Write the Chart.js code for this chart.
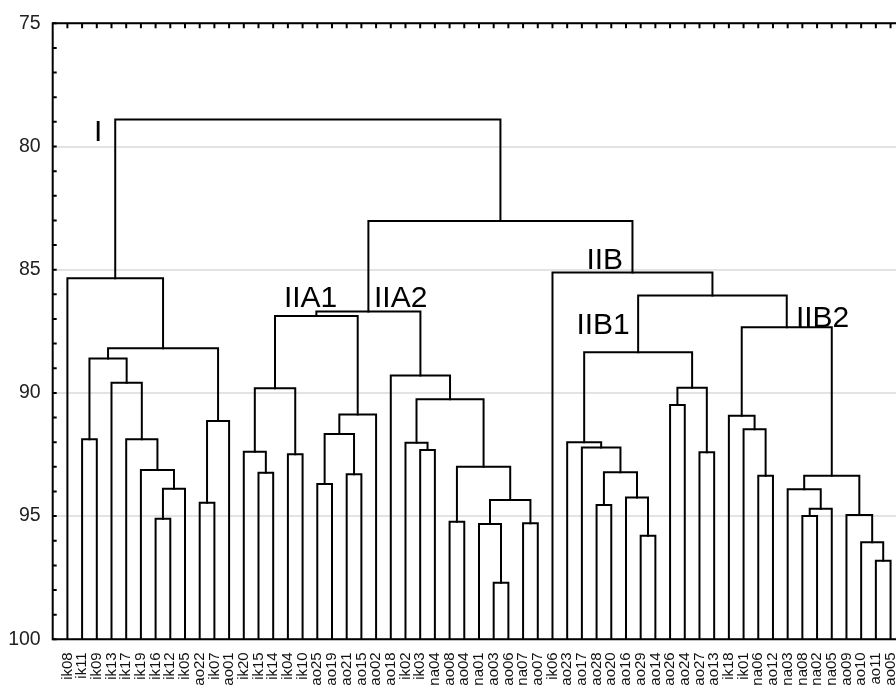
<!DOCTYPE html>
<html><head><meta charset="utf-8">
<script src="https://cdn.jsdelivr.net/npm/chart.js@4.4.1/dist/chart.umd.min.js"></script>
<style>html,body{margin:0;padding:0;background:#fff;overflow:hidden}canvas{display:block}</style>
</head><body>
<canvas id="c" width="896" height="693" style="width:896px;height:693px"></canvas>
<script>
// Leaf order (bottom axis categories)
const leaves = ['ik08','ik11','ik09','ik13','ik17','ik19','ik16','ik12','ik05','ao22','ik07','ao01','ik20','ik15','ik14','ik04','ik10','ao25','ao19','ao21','ao15','ao02','ao18','ik02','ik03','na04','ao08','ao04','na01','ao03','ao06','na07','ao07','ik06','ao23','ao17','ao28','ao20','ao16','ao29','ao14','ao26','ao24','ao27','ao13','ik18','ik01','na06','ao12','na03','na08','na02','na05','ao09','ao10','ao11','ao05'];
// Linkage: strings = leaf names, numbers = earlier merge index
const linkLeft = ['ik11','ik16',1,'ik19','ik17','ik13',0,'ao22',7,6,'ik08',
  'ik15','ik20','ik04',12,'ao25','ao21',15,17,14,
  'ik03','ik02','ao08','ao03','na01','na07',24,22,21,'ao18',19,
  'ao28','ao29','ao16',31,'ao17','ao23','ao26','ao27',37,36,
  'na06','ik01','ik18','na08',44,'na03','ao11','ao10','ao09',46,43,40,'ik06',30,10];
const linkRight = ['ik09','ik12','ik05',2,3,4,5,'ik07','ao01',8,9,
  'ik14',11,'ik10',13,'ao19','ao15',16,'ao02',18,
  'na04',20,'ao04','ao06',23,'ao07',25,26,27,28,29,
  'ao20','ao14',32,33,34,35,'ao24','ao13',38,39,
  'ao12',41,42,'na02','na05',45,'ao05',47,48,49,50,51,52,53,54];
const linkHeight = [91.88,95.11,93.89,93.13,91.88,89.59,88.6,94.46,91.14,88.19,85.35,
  93.24,92.39,92.49,89.81,93.7,93.3,91.67,90.88,86.88,
  92.32,92.02,95.23,97.7,95.32,95.29,94.35,93.0,90.26,89.29,86.7,
  94.55,95.8,94.25,93.22,92.22,92.0,90.49,92.41,89.79,88.35,
  93.36,91.48,90.93,95.0,94.7,93.91,96.81,96.06,94.96,93.36,87.34,86.05,85.11,83.02,78.9];
const yTicks = [75,80,85,90,95,100];
const clusterNames = ['I','IIA1','IIA2','IIB','IIB1','IIB2'];
const clusterX = [1.81,14.73,20.86,35.31,34.63,49.56];
const clusterY = [79.78,86.5,86.5,84.98,87.62,87.34];

const nodes = [];
function node(ref){
  if (typeof ref === 'string') return {x: leaves.indexOf(ref), h: 100};
  return nodes[ref];
}
const datasets = [];
for (let k = 0; k < linkHeight.length; k++){
  const L = node(linkLeft[k]), R = node(linkRight[k]), h = linkHeight[k];
  nodes.push({x: (L.x + R.x) / 2, h: h});
  datasets.push({
    data: [{x: L.x, y: L.h}, {x: L.x, y: h}, {x: R.x, y: h}, {x: R.x, y: R.h}],
    showLine: true, borderColor: '#000', borderWidth: 2, pointRadius: 0,
    tension: 0, fill: false, borderJoinStyle: 'miter', borderCapStyle: 'square'
  });
}

const frame = {
  id: 'frame',
  afterDraw(chart){
    const {ctx, chartArea: a, scales: {x, y}} = chart;
    ctx.save();
    ctx.strokeStyle = '#000'; ctx.lineWidth = 2;
    ctx.beginPath();
    ctx.moveTo(a.right + 5, a.top); ctx.lineTo(a.left, a.top);
    ctx.lineTo(a.left, a.bottom); ctx.lineTo(a.right + 5, a.bottom);
    ctx.stroke();
    ctx.beginPath();
    leaves.forEach((_, i) => { const px = x.getPixelForValue(i); ctx.moveTo(px, a.top); ctx.lineTo(px, a.top + 5); });
    for (let v = 75; v <= 100; v++){ const py = y.getPixelForValue(v); ctx.moveTo(a.left, py); ctx.lineTo(a.left + 4, py); }
    ctx.stroke();
    ctx.fillStyle = '#000';
    ctx.font = '30px "Liberation Sans", Arial, sans-serif';
    ctx.textAlign = 'left'; ctx.textBaseline = 'alphabetic';
    clusterNames.forEach((n, k) => ctx.fillText(n, x.getPixelForValue(clusterX[k]), y.getPixelForValue(clusterY[k])));
    ctx.restore();
  }
};

new Chart(document.getElementById('c'), {
  type: 'scatter',
  data: {datasets},
  plugins: [frame],
  options: {
    responsive: false, animation: false, devicePixelRatio: 1,
    layout: {padding: {top: 23.3, left: 0, right: 0, bottom: 0}},
    plugins: {legend: {display: false}, tooltip: {enabled: false}},
    scales: {
      x: {
        type: 'linear', position: 'bottom', min: -1, max: 56.37,
        grid: {display: false}, border: {display: false},
        afterBuildTicks: s => { s.ticks = leaves.map((_, i) => ({value: i})); },
        afterFit: s => { s.height = 53.7; s.paddingLeft = 0; s.paddingRight = 0; },
        ticks: {
          autoSkip: false, minRotation: 90, maxRotation: 90, padding: 5,
          color: '#111', font: {family: '"Liberation Sans", Arial, sans-serif', size: 15},
          callback: v => leaves[v]
        }
      },
      y: {
        type: 'linear', reverse: true, min: 75, max: 100,
        afterBuildTicks: s => { s.ticks = yTicks.map(v => ({value: v})); },
        afterFit: s => { s.width = 52.7; s.paddingTop = 0; s.paddingBottom = 0; },
        grid: {color: '#e3e3e3', lineWidth: 2, drawTicks: false},
        border: {display: false},
        ticks: {padding: 12, color: '#222', font: {family: '"Liberation Sans", Arial, sans-serif', size: 19.5}}
      }
    }
  }
});
</script>
</body></html>
